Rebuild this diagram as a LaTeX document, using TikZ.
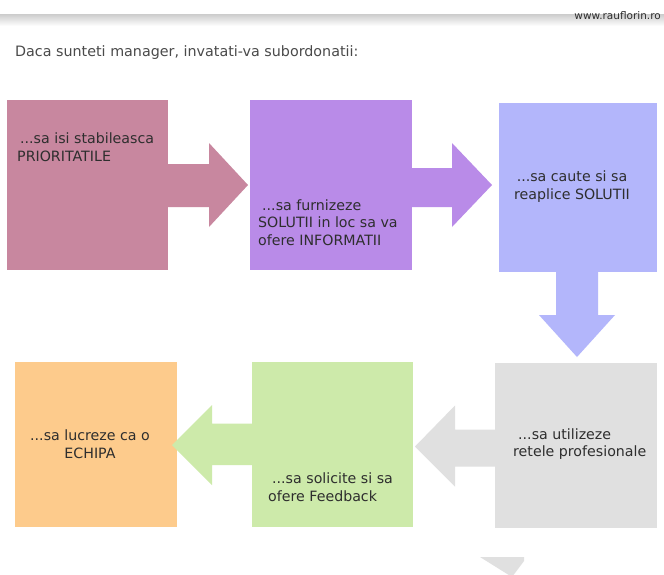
\documentclass[tikz,border=0pt]{standalone}
\usepackage{fontspec}
\setmainfont{DejaVu Sans}
\usetikzlibrary{calc}
\definecolor{cA}{HTML}{C8879F}
\definecolor{cB}{HTML}{B98BE8}
\definecolor{cC}{HTML}{B3B6FB}
\definecolor{cD}{HTML}{E0E0E0}
\definecolor{cE}{HTML}{CDEAAA}
\definecolor{cF}{HTML}{FDCB8C}
\definecolor{txt}{HTML}{2E2E2E}
\definecolor{ttl}{HTML}{4A4A4A}
\begin{document}
\begin{tikzpicture}[x=1pt,y=-1pt,
  box/.style={rectangle,draw=none,inner sep=0pt,outer sep=0pt},
  lbl/.style={inner sep=0pt,text=txt,font=\fontsize{14.2}{17.7}\selectfont}]
\useasboundingbox (0,0) rectangle (664,574);
\fill[white] (0,0) rectangle (664,574);
% top bar
\shade[top color=black!20,bottom color=white] (0,14) rectangle (664,26);
\node[inner sep=0pt,anchor=east,text=txt,font=\fontsize{10.5}{12}\selectfont] (url) at (661,16) {www.rauflorin.ro};
\node[inner sep=0pt,anchor=west,text=ttl,font=\fontsize{14.3}{16}\selectfont] (title) at (15,52.5) {Daca sunteti manager, invatati-va subordonatii:};
% boxes
\node[box,fill=cA,minimum width=161,minimum height=170] (b1) at (87.5,185) {};
\node[box,fill=cB,minimum width=162,minimum height=170] (b2) at (331,185) {};
\node[box,fill=cC,minimum width=158,minimum height=169] (b3) at (578,187.5) {};
\node[box,fill=cD,minimum width=162,minimum height=165] (b4) at (576,445.5) {};
\node[box,fill=cE,minimum width=161,minimum height=165] (b5) at (332.5,444.5) {};
\node[box,fill=cF,minimum width=162,minimum height=165] (b6) at (96,444.5) {};
% block arrows
\fill[cA] ($(b1.east)+(0,-21)$) -- ($(b1.east)+(41,-21)$) -- ($(b1.east)+(41,-42)$) -- ($(b2.west)+(-2,0)$) -- ($(b1.east)+(41,42)$) -- ($(b1.east)+(41,22)$) -- ($(b1.east)+(0,22)$) -- cycle;
\fill[cB] ($(b2.east)+(0,-17)$) -- ($(b2.east)+(40,-17)$) -- ($(b2.east)+(40,-42)$) -- ($(b2.east)+(80,0)$) -- ($(b2.east)+(40,42)$) -- ($(b2.east)+(40,22)$) -- ($(b2.east)+(0,22)$) -- cycle;
\fill[cC] ($(b3.south)+(-22,0)$) -- ($(b3.south)+(-22,43)$) -- ($(b3.south)+(-39,43)$) -- ($(b3.south)+(-1,85)$) -- ($(b3.south)+(37,43)$) -- ($(b3.south)+(20,43)$) -- ($(b3.south)+(20,0)$) -- cycle;
\fill[cD] ($(b4.west)+(0,-16)$) -- ($(b4.west)+(-40,-16)$) -- ($(b4.west)+(-40,-40)$) -- ($(b5.east)+(2,2)$) -- ($(b4.west)+(-40,41)$) -- ($(b4.west)+(-40,21)$) -- ($(b4.west)+(0,21)$) -- cycle;
\fill[cE] ($(b5.west)+(0,-21)$) -- ($(b5.west)+(-40,-21)$) -- ($(b5.west)+(-40,-39.5)$) -- ($(b5.west)+(-80,0.5)$) -- ($(b5.west)+(-40,40.5)$) -- ($(b5.west)+(-40,20.5)$) -- ($(b5.west)+(0,20.5)$) -- cycle;
% partial shape at the bottom
\fill[cD] (480,557) -- (524,557) -- (524,561) -- (512,577) -- cycle;
% texts
\node[lbl,anchor=west,align=left] (t1) at (17,147) {\hspace{3pt}...sa isi stabileasca\\PRIORITATILE};
\node[lbl,anchor=west,align=left] (t2) at (258,222.5) {\hspace{4pt}...sa furnizeze\\SOLUTII in loc sa va\\ofere INFORMATII};
\node[lbl,align=center] (t3) at (572,186.5) {...sa caute si sa\\reaplice SOLUTII};
\node[lbl,anchor=west,align=left] (t4) at (513,444) {\hspace{5pt}...sa utilizeze\\retele profesionale};
\node[lbl,anchor=west,align=left] (t5) at (268,487.5) {\hspace{4pt}...sa solicite si sa\\ofere Feedback};
\node[lbl,align=center] (t6) at (90,444) {...sa lucreze ca o\\ECHIPA};
\end{tikzpicture}
\end{document}
